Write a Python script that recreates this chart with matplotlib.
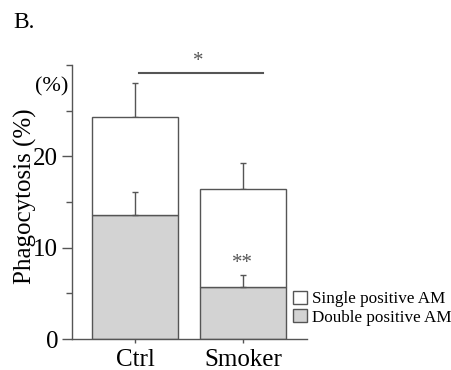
import numpy as np
import matplotlib.pyplot as plt
from matplotlib.patches import Patch

groups = ['Ctrl', 'Smoker']
double_pos = [13.6, 5.7]
double_err = [2.5, 1.3]
total = [24.3, 16.4]
total_err = [3.7, 2.9]
single_pos = [t - d for t, d in zip(total, double_pos)]

plt.rcParams['font.family'] = ['Liberation Serif', 'DejaVu Serif']

edge = '#555555'
fig = plt.figure(figsize=(4.52, 3.70), dpi=100)
ax = fig.add_axes([72 / 452, 1 - 339 / 370, 235 / 452, 274 / 370])

x = np.arange(len(groups))
w = 0.79
# Error bars (upper only) drawn first so the bars cover the lower half
ax.errorbar(x, total, yerr=[np.zeros(2), total_err], fmt='none', ecolor=edge,
            elinewidth=1, capsize=2, capthick=1, zorder=1)
ax.errorbar(x, double_pos, yerr=[np.zeros(2), double_err], fmt='none', ecolor=edge,
            elinewidth=1, capsize=2, capthick=1, zorder=3)
ax.bar(x, double_pos, width=w, color='#d3d3d3', edgecolor=edge, linewidth=1, zorder=2)
ax.bar(x, single_pos, width=w, bottom=double_pos, color='white', edgecolor=edge,
       linewidth=1, zorder=2)

ax.set_xlim(-0.583, 1.593)
ax.set_ylim(0, 30)
ax.set_yticks([0, 10, 20])
ax.set_yticks([5, 15, 25, 30], minor=True)
ax.set_xticks(x)
ax.set_xticklabels(groups, fontsize=18)
ax.tick_params(axis='y', labelsize=18, length=7, width=1, color=edge, pad=3)
ax.tick_params(axis='y', which='minor', length=4, width=1, color=edge)
ax.tick_params(axis='x', length=3, width=1, color=edge, pad=4)

for s in ['top', 'right']:
    ax.spines[s].set_visible(False)
for s in ['left', 'bottom']:
    ax.spines[s].set_color(edge)
    ax.spines[s].set_linewidth(1)

ax.set_ylabel('Phagocytosis (%)', fontsize=18)
ax.yaxis.set_label_coords(-0.15, 0.52)

# significance marks
ax.plot([0.037, 1.185], [29.1, 29.1], color=edge, lw=1.5, clip_on=False)
ax.text(0.583, 29.3, '*', ha='center', va='bottom', fontsize=15, color=edge)
ax.text(1, 7.2, '**', ha='center', va='bottom', fontsize=15, color=edge)

fig.text(52 / 452, 1 - 87 / 370, '(%)', ha='center', va='center', fontsize=16)
fig.text(13 / 452, 1 - 22 / 370, 'B.', ha='left', va='center', fontsize=17)

handles = [Patch(facecolor='white', edgecolor=edge),
           Patch(facecolor='#d3d3d3', edgecolor=edge)]
fig.legend(handles, ['Single positive AM', 'Double positive AM'],
           loc='upper left', bbox_to_anchor=(293 / 452, 1 - 291 / 370),
           frameon=False, fontsize=12.3, handlelength=0.8, handleheight=0.8,
           handletextpad=0.3, labelspacing=0.1, borderpad=0, borderaxespad=0)

fig.savefig('out.png', dpi=100)
